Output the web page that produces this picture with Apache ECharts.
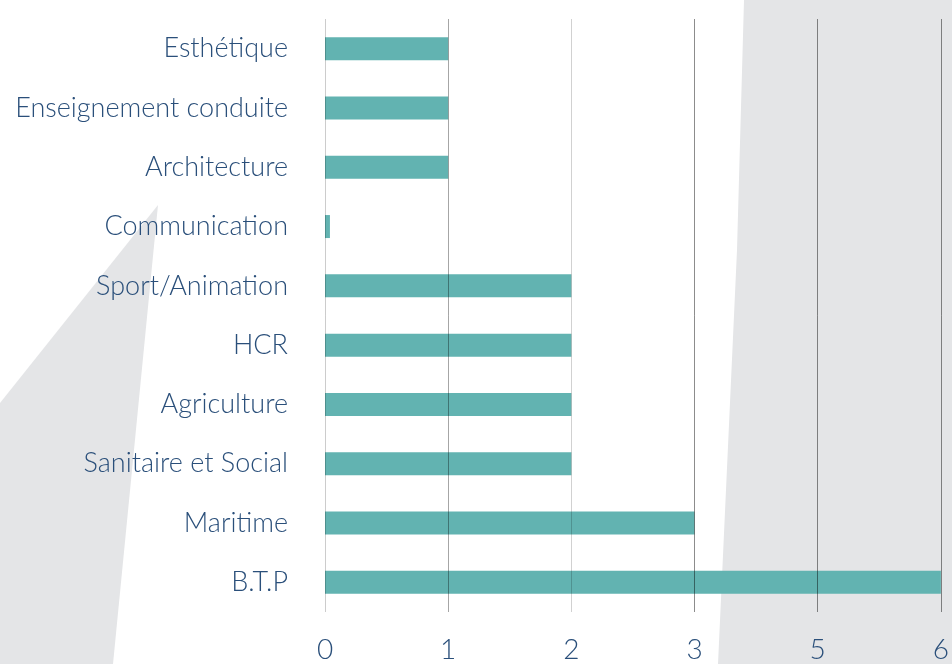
<!DOCTYPE html>
<html>
<head>
<meta charset="utf-8">
<script src="https://cdn.jsdelivr.net/npm/echarts@6/dist/echarts.min.js"></script>
<style>html,body{margin:0;padding:0;background:#fff;}#c{width:952px;height:664px;}</style>
</head>
<body>
<div id="c"></div>
<script>
// Categories, top to bottom
const categories = ['Esthétique','Enseignement conduite','Architecture','Communication','Sport/Animation','HCR','Agriculture','Sanitaire et Social','Maritime','B.T.P'];
// Bar lengths read in axis-step units (the axis shows evenly spaced ticks labelled 0,1,2,3,5,6)
const values = [1, 1, 1, 0.04, 2, 2, 2, 2, 3, 5];
// Tick labels as printed on the axis
const tickLabels = ['0','1','2','3','5','6'];

const FONT = 'Lato';
const chart = echarts.init(document.getElementById('c'), null, {renderer:'canvas'});
chart.setOption({
  backgroundColor: '#ffffff',
  animation: false,
  graphic: [
    {type:'polygon', z:-100, silent:true, shape:{points:[[158,205],[113,664],[0,664],[0,403]]}, style:{fill:'#e4e5e7'}},
    {type:'polygon', z:-100, silent:true, shape:{points:[[744,0],[952,0],[952,664],[718,664],[737,250]]}, style:{fill:'#e4e5e7'}}
  ],
  grid: {left:325, right:8, top:19, height:593, containLabel:false},
  xAxis: {
    type:'value', min:0, max:5, interval:1, z:5,
    axisLine:{show:false}, axisTick:{show:false},
    splitLine:{show:true, lineStyle:{width:1, color:['rgba(0,0,0,0.2)','rgba(0,0,0,0.35)','rgba(0,0,0,0.18)','rgba(0,0,0,0.45)','rgba(0,0,0,0.45)','rgba(0,0,0,0.45)']}},
    axisLabel:{margin:24, fontFamily:FONT, fontWeight:300, fontSize:28, color:'#2a4f7a',
      formatter: v => tickLabels[Math.round(v)] }
  },
  yAxis: {
    type:'category', data:categories, inverse:true,
    axisLine:{show:false}, axisTick:{show:false}, splitLine:{show:false},
    axisLabel:{margin:37, fontFamily:FONT, fontWeight:300, fontSize:27, color:'#2a4f7a'}
  },
  series: [{
    type:'bar', data:values, barWidth:23, z:2,
    itemStyle:{color:'#62b3b1'}
  }]
});
</script>
</body>
</html>
